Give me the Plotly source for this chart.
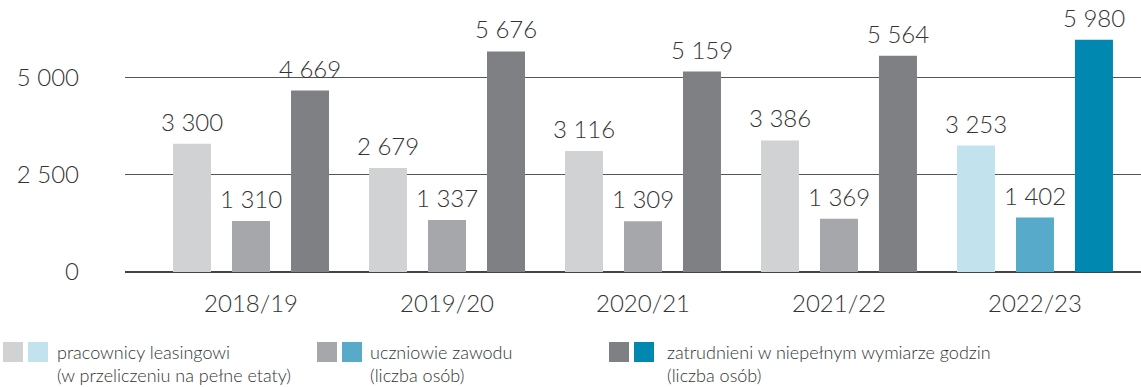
import plotly.graph_objects as go

# Academic years on the category axis
years = ["2018/19", "2019/20", "2020/21", "2021/22", "2022/23"]

# Series values
leasing = [3300, 2679, 3116, 3386, 3253]
students = [1310, 1337, 1309, 1369, 1402]
part_time = [4669, 5676, 5159, 5564, 5980]

# Legend texts, two lines each
legend_texts = [
    ["pracownicy leasingowi", "(w przeliczeniu na pełne etaty)"],
    ["uczniowie zawodu", "(liczba osób)"],
    ["zatrudnieni w niepełnym wymiarze godzin", "(liczba osób)"],
]

y_ticks = [0, 2500, 5000]
y_tick_text = ["0", "2 500", "5 000"]

# Colour pairs: grey for past years, blue for the latest one
grey = ["#d1d2d4", "#a6a7aa", "#7f8083"]
blue = ["#c2e2ee", "#57aaca", "#0088b0"]

FONT = "Lato"
TXT = "#333333"
BARGAP = 0.097
BARGROUPGAP = 0.356


def fmt(v):
    return f"{v:,}".replace(",", " ")


series = [leasing, students, part_time]
n_series = len(series)
slot = (1 - BARGAP) / n_series

fig = go.Figure()
annotations = []
for i, vals in enumerate(series):
    colors = [grey[i]] * (len(years) - 1) + [blue[i]]
    fig.add_trace(go.Bar(
        x=list(range(len(years))), y=vals,
        marker=dict(color=colors, line=dict(width=0)),
        showlegend=False,
        hoverinfo="skip",
    ))
    # value labels above each bar
    offset = (i - (n_series - 1) / 2) * slot
    for k, v in enumerate(vals):
        annotations.append(dict(
            x=k + offset, y=v, xref="x", yref="y",
            text=fmt(v), showarrow=False,
            xanchor="center", yanchor="bottom", yshift=6,
            font=dict(family=FONT, size=24, color=TXT, weight=300),
        ))

# Custom legend drawn below the plot (pixel positions converted to paper units)
PLOT_L, PLOT_W, PLOT_H = 125, 1016, 272


def px_x(x):
    return (x - PLOT_L) / PLOT_W


def px_y(y):
    return (PLOT_H - y) / PLOT_H


legend_swatch_x = [3, 317, 609]
legend_text_x = [55, 368, 665]
sq = 20
shapes = []
for i, x0 in enumerate(legend_swatch_x):
    for j, col in enumerate([grey[i], blue[i]]):
        xs = x0 + j * 25
        shapes.append(dict(
            type="rect", xref="paper", yref="paper",
            x0=px_x(xs), x1=px_x(xs + sq),
            y0=px_y(362), y1=px_y(342),
            fillcolor=col, line=dict(width=0), layer="above",
        ))
    for k, line in enumerate(legend_texts[i]):
        annotations.append(dict(
            xref="paper", yref="paper",
            x=px_x(legend_text_x[i]), y=px_y(352 + 23 * k),
            xanchor="left", yanchor="middle", align="left",
            text=line, showarrow=False,
            font=dict(family=FONT, size=18, color=TXT, weight=300),
        ))

fig.update_layout(
    width=1141, height=387,
    margin=dict(l=125, r=0, t=0, b=115),
    paper_bgcolor="white", plot_bgcolor="white",
    barmode="group", bargap=BARGAP, bargroupgap=BARGROUPGAP,
    font=dict(family=FONT, color=TXT),
    shapes=shapes, annotations=annotations,
    xaxis=dict(
        range=[-0.643, 4.541],
        tickvals=list(range(len(years))), ticktext=years,
        showgrid=False, showline=False, zeroline=False,
        ticks="outside", ticklen=10, tickcolor="rgba(0,0,0,0)",
        tickfont=dict(family=FONT, size=24, color=TXT, weight=300),
    ),
    yaxis=dict(
        range=[0, 7000],
        tickvals=y_ticks, ticktext=y_tick_text,
        showgrid=True, gridcolor="#555555", gridwidth=1,
        zeroline=True, zerolinecolor="#444444", zerolinewidth=1.5,
        showline=False, ticks="",
        ticklabelstandoff=45,
        tickfont=dict(family=FONT, size=24, color=TXT, weight=300),
    ),
)

fig.write_html("out.html")
